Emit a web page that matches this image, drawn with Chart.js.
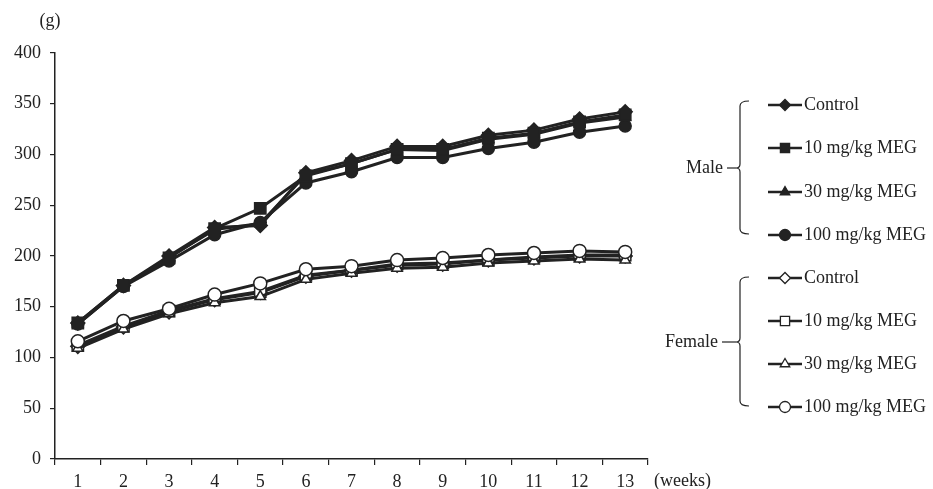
<!DOCTYPE html>
<html>
<head>
<meta charset="utf-8">
<script src="https://cdn.jsdelivr.net/npm/chart.js@4"></script>
<style>
  body { margin: 0; background: #fff; }
  #wrap { width: 933px; height: 489px; }
</style>
</head>
<body>
<div id="wrap"><canvas id="chart"></canvas></div>
<script>
// body weight (g) by week
const weeks = ['1', '2', '3', '4', '5', '6', '7', '8', '9', '10', '11', '12', '13'];
const yTicks = [0, 50, 100, 150, 200, 250, 300, 350, 400];

const maleControl = [134, 171, 200, 228, 230, 282, 294, 308, 308, 319, 324, 335, 342];
const male10 = [134, 171, 198, 227, 247, 279, 291, 305, 305, 316, 321, 332, 339];
const male30 = [133, 170, 199, 226, 232, 280, 291, 305, 304, 315, 320, 331, 337];
const male100 = [133, 170, 195, 221, 233, 272, 283, 297, 297, 306, 312, 322, 328];

const femaleControl = [111, 130, 145, 157, 164, 180, 186, 191, 192, 196, 198, 200, 200];
const female10 = [112, 131, 146, 158, 165, 181, 186, 192, 193, 196, 199, 201, 201];
const female30 = [109, 128, 143, 154, 160, 177, 183, 188, 189, 193, 195, 197, 196];
const female100 = [116, 136, 148, 162, 173, 187, 190, 196, 198, 201, 203, 205, 204];

const groupNames = ['Male', 'Female'];
const doseNames = ['Control', '10 mg/kg MEG', '30 mg/kg MEG', '100 mg/kg MEG'];

const INK = '#222';
const FONT = '"Liberation Serif", "DejaVu Serif", serif';

function series(label, data, style, radius, filled, order) {
  return {
    label: label,
    data: data,
    order: order,
    borderColor: INK,
    borderWidth: 3,
    pointStyle: style,
    pointRadius: radius,
    pointHoverRadius: radius,
    pointBackgroundColor: filled ? INK : '#fff',
    pointBorderColor: INK,
    pointBorderWidth: 1.5,
    tension: 0,
    fill: false
  };
}

// higher order = drawn further back
const datasets = [
  series('Male Control', maleControl, 'rectRot', 7, true, 2),
  series('Male 10 mg/kg MEG', male10, 'rect', 8, true, 0),
  series('Male 30 mg/kg MEG', male30, 'triangle', 6, true, 3),
  series('Male 100 mg/kg MEG', male100, 'circle', 6, true, 1),
  series('Female Control', femaleControl, 'rectRot', 7, false, 7),
  series('Female 10 mg/kg MEG', female10, 'rect', 8, false, 6),
  series('Female 30 mg/kg MEG', female30, 'triangle', 6, false, 5),
  series('Female 100 mg/kg MEG', female100, 'circle', 6.5, false, 4)
];

// grouped legend with braces + axis unit labels
const extras = {
  id: 'extras',
  afterDraw(chart) {
    const ctx = chart.ctx;
    ctx.save();
    ctx.fillStyle = INK;
    ctx.strokeStyle = INK;
    ctx.font = '18px ' + FONT;
    ctx.textBaseline = 'middle';

    ctx.textAlign = 'center';
    ctx.fillText('(g)', 50, 21);
    ctx.textAlign = 'left';
    ctx.fillText('(weeks)', 654, 481);

    const groups = [
      { top: 101, bottom: 234, mid: 168, labelX: 723, rows: [105, 148, 192, 235] },
      { top: 277, bottom: 406, mid: 342, labelX: 718, rows: [278, 321, 364, 407] }
    ];
    const bx = 740;
    groups.forEach((g, gi) => {
      ctx.lineWidth = 1.2;
      ctx.beginPath();
      ctx.moveTo(749, g.top);
      ctx.quadraticCurveTo(bx, g.top, bx, g.top + 5);
      ctx.lineTo(bx, g.mid - 4);
      ctx.quadraticCurveTo(bx, g.mid, bx - 4, g.mid);
      ctx.quadraticCurveTo(bx, g.mid, bx, g.mid + 4);
      ctx.lineTo(bx, g.bottom - 5);
      ctx.quadraticCurveTo(bx, g.bottom, 749, g.bottom);
      ctx.stroke();
      ctx.beginPath();
      ctx.moveTo(bx - 4, g.mid);
      ctx.lineTo(g.labelX + 4, g.mid);
      ctx.stroke();

      ctx.textAlign = 'right';
      ctx.fillText(groupNames[gi], g.labelX, g.mid);

      g.rows.forEach((y, i) => {
        const ds = chart.data.datasets[gi * 4 + i];
        ctx.lineWidth = 2.5;
        ctx.beginPath();
        ctx.moveTo(768, y);
        ctx.lineTo(802, y);
        ctx.stroke();
        ctx.fillStyle = ds.pointBackgroundColor;
        ctx.lineWidth = 1.3;
        Chart.helpers.drawPoint(ctx, {
          pointStyle: ds.pointStyle,
          radius: ds.pointStyle === 'rect' ? 6.5 : 5.5,
          rotation: 0,
          borderWidth: 1.3
        }, 785, y);
        ctx.fillStyle = INK;
        ctx.textAlign = 'left';
        ctx.fillText(doseNames[i], 804, y);
      });
    });
    ctx.restore();
  }
};

new Chart(document.getElementById('chart'), {
  type: 'line',
  data: { labels: weeks, datasets: datasets },
  options: {
    responsive: true,
    maintainAspectRatio: false,
    animation: false,
    layout: { padding: { top: 53, right: 285, left: 0, bottom: 0 } },
    plugins: {
      legend: { display: false },
      tooltip: { enabled: false }
    },
    scales: {
      x: {
        offset: true,
        grid: { offset: true, drawOnChartArea: false, drawTicks: true, tickLength: 6, color: INK, lineWidth: 1.2 },
        border: { color: INK, width: 1.5 },
        ticks: { color: INK, font: { family: FONT, size: 18 }, padding: 6, maxRotation: 0 },
        afterFit(scale) { scale.height = 30; }
      },
      y: {
        min: 0,
        max: 400,
        afterBuildTicks(scale) { scale.ticks = yTicks.map(v => ({ value: v })); },
        grid: { drawOnChartArea: false, drawTicks: true, tickLength: 5, color: INK, lineWidth: 1.2 },
        border: { color: INK, width: 1.5 },
        ticks: { color: INK, font: { family: FONT, size: 18 }, padding: 9 },
        afterFit(scale) { scale.width = 55; }
      }
    }
  },
  plugins: [extras]
});
</script>
</body>
</html>
